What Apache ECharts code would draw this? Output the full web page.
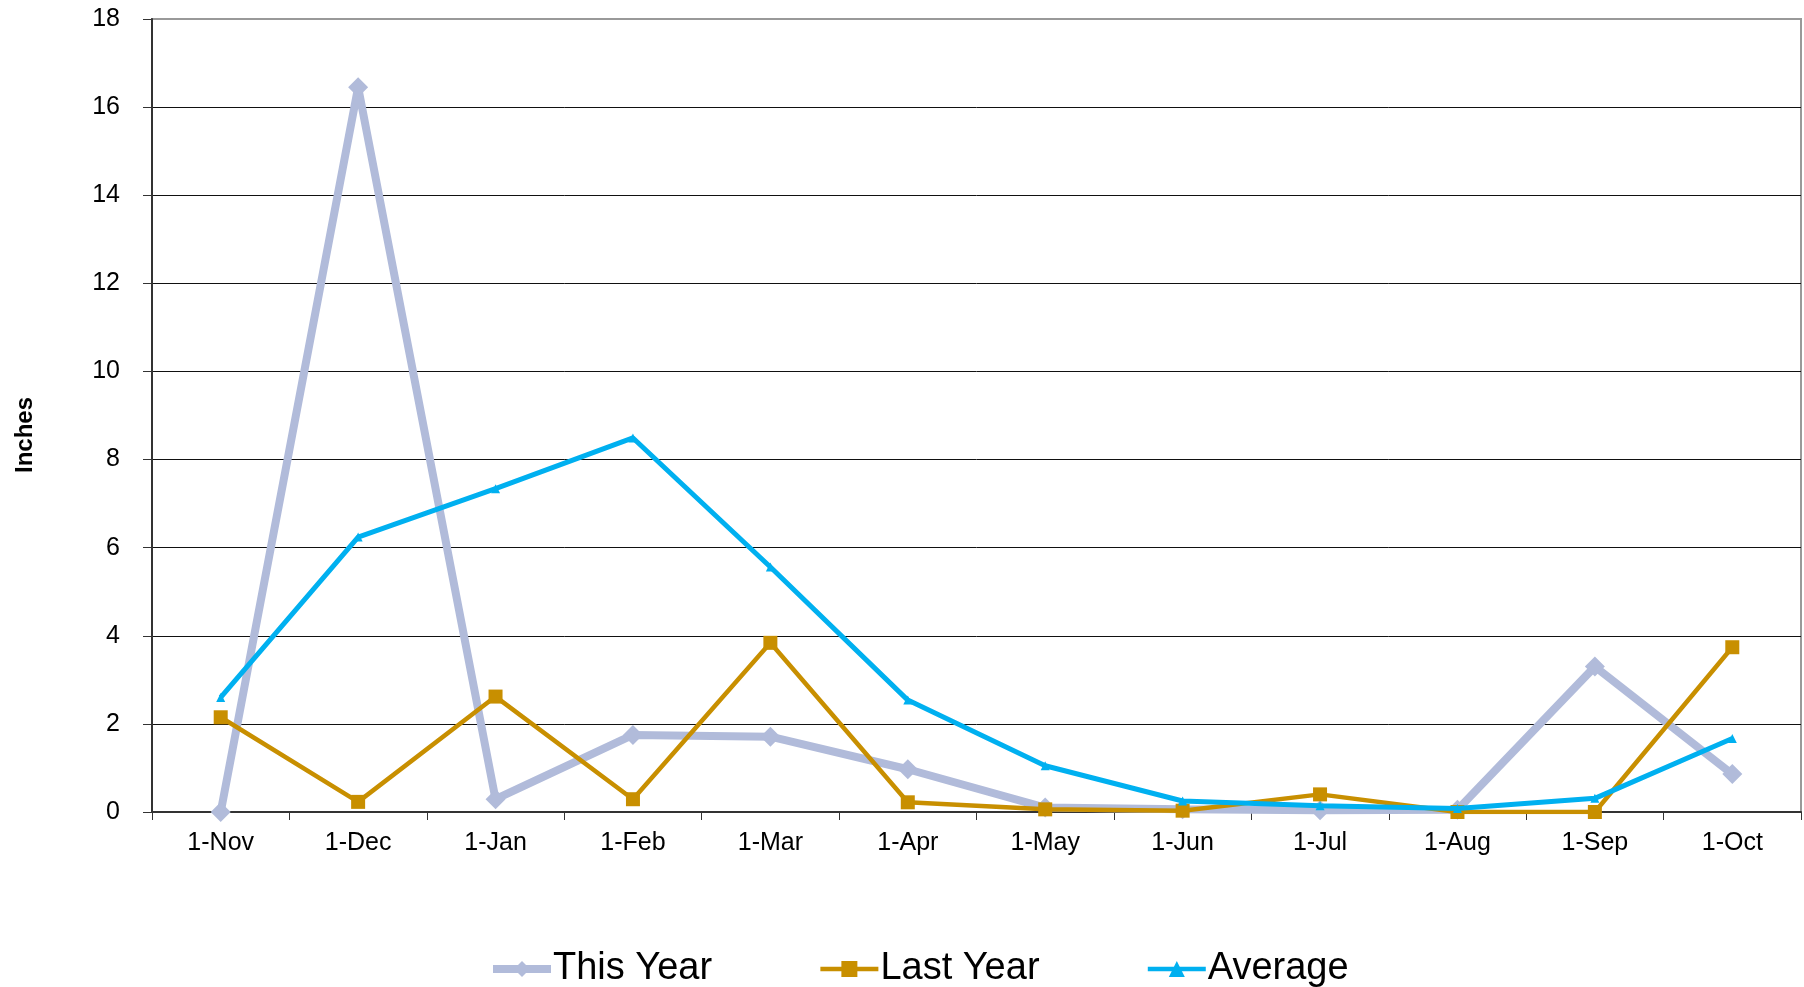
<!DOCTYPE html>
<html>
<head>
<meta charset="utf-8">
<script src="https://cdn.jsdelivr.net/npm/echarts@6/dist/echarts.min.js"></script>
<style>
html,body{margin:0;padding:0;background:#fff;}
#chart{width:1804px;height:987px;}
</style>
</head>
<body>
<div id="chart"></div>
<script>
var categories = ['1-Nov','1-Dec','1-Jan','1-Feb','1-Mar','1-Apr','1-May','1-Jun','1-Jul','1-Aug','1-Sep','1-Oct'];
var thisYear = [0, 16.45, 0.29, 1.75, 1.71, 0.97, 0.1, 0.06, 0.04, 0.05, 3.3, 0.86];
var lastYear = [2.15, 0.23, 2.62, 0.29, 3.84, 0.22, 0.06, 0.03, 0.40, 0, 0, 3.74];
var average = [2.6, 6.24, 7.34, 8.49, 5.56, 2.54, 1.05, 0.25, 0.14, 0.08, 0.31, 1.67];
var yTicks = {min: 0, max: 18, interval: 2};
var yTitle = 'Inches';

var FONT = '"Liberation Sans", Arial, sans-serif';
var C_THIS = '#B1BBDA', C_LAST = '#C88F00', C_AVG = '#00B0F0';
var chart = echarts.init(document.getElementById('chart'), null, {renderer: 'canvas'});
chart.setOption({
  animation: false,
  backgroundColor: '#fff',
  textStyle: {fontFamily: FONT},
  grid: {left: 152, right: 3, top: 19, bottom: 175, show: true, borderColor: '#999', borderWidth: 2, containLabel: false},
  graphic: [{
    type: 'text', x: 25, y: 435, rotation: Math.PI / 2,
    style: {text: yTitle, font: 'bold 24px ' + FONT, fill: '#000', textAlign: 'center', textVerticalAlign: 'middle'}
  }],
  legend: {
    bottom: -6, left: 484, itemWidth: 58, itemHeight: 20, itemGap: 106,
    textStyle: {fontSize: 38, color: '#000', fontFamily: FONT, padding: [0, 0, 0, -3]},
    data: [
      {name: 'This Year', lineStyle: {width: 8, color: C_THIS}},
      {name: 'Last Year', lineStyle: {width: 4.5, color: C_LAST}},
      {name: 'Average', lineStyle: {width: 4.5, color: C_AVG}}
    ]
  },
  xAxis: {
    type: 'category', data: categories, boundaryGap: true,
    axisLine: {lineStyle: {color: '#333', width: 2}},
    axisTick: {show: true, length: 8, lineStyle: {color: '#333', width: 1}},
    axisLabel: {fontSize: 25, color: '#000', margin: 19, fontFamily: FONT},
    splitLine: {show: false}
  },
  yAxis: {
    type: 'value', min: yTicks.min, max: yTicks.max, interval: yTicks.interval,
    axisLine: {show: true, lineStyle: {color: '#333', width: 2}},
    axisTick: {show: true, length: 9, lineStyle: {color: '#333', width: 1}},
    axisLabel: {fontSize: 25, color: '#000', margin: 32, fontFamily: FONT},
    splitLine: {show: true, showMaxLine: false, lineStyle: {color: '#111', width: 1}}
  },
  series: [
    {
      name: 'This Year', type: 'line', data: thisYear,
      symbol: 'diamond', symbolSize: [20, 20],
      lineStyle: {color: C_THIS, width: 8},
      itemStyle: {color: C_THIS}, z: 2
    },
    {
      name: 'Last Year', type: 'line', data: lastYear,
      symbol: 'rect', symbolSize: 14,
      lineStyle: {color: C_LAST, width: 4.5},
      itemStyle: {color: C_LAST}, z: 3
    },
    {
      name: 'Average', type: 'line', data: average,
      symbol: 'triangle', symbolSize: 9,
      lineStyle: {color: C_AVG, width: 5},
      itemStyle: {color: C_AVG}, z: 4
    }
  ]
});
</script>
</body>
</html>
